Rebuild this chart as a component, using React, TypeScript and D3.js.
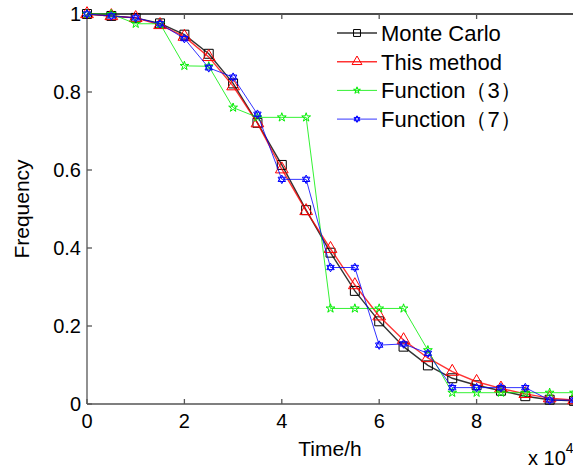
import { useEffect, useRef } from 'react'
import * as d3 from 'd3'

// time in units of 10^4 h
const times = [0, 0.5, 1, 1.5, 2, 2.5, 3, 3.5, 4, 4.5, 5, 5.5, 6, 6.5, 7, 7.5, 8, 8.5, 9, 9.5, 10]

const monteCarlo = [1, 0.995, 0.99, 0.976, 0.947, 0.898, 0.822, 0.721, 0.613, 0.497, 0.388, 0.29, 0.212, 0.147, 0.099, 0.066, 0.048, 0.034, 0.02, 0.011, 0.008]
const thisMethod = [1, 0.995, 0.99, 0.972, 0.942, 0.89, 0.815, 0.72, 0.602, 0.495, 0.398, 0.305, 0.225, 0.164, 0.118, 0.083, 0.057, 0.04, 0.026, 0.015, 0.01]
const function3 = [1, 1, 0.975, 0.975, 0.867, 0.866, 0.76, 0.735, 0.735, 0.735, 0.245, 0.245, 0.245, 0.245, 0.138, 0.029, 0.029, 0.029, 0.029, 0.029, 0.029]
const function7 = [1, 0.995, 0.99, 0.975, 0.937, 0.862, 0.838, 0.743, 0.576, 0.576, 0.35, 0.35, 0.151, 0.154, 0.13, 0.042, 0.042, 0.042, 0.042, 0.01, 0.01]

const seriesNames = ['Monte Carlo', 'This method', 'Function（3）', 'Function（7）']
const xTicks = [0, 2, 4, 6, 8, 10]
const yTicks = [0, 0.2, 0.4, 0.6, 0.8, 1]

// hexagram marker (two overlapping triangles)
const hexagram = {
  draw(ctx: any, size: number) {
    const r = Math.sqrt(size) * 0.62
    for (let k = 0; k < 2; k++) {
      for (let i = 0; i < 3; i++) {
        const a = -Math.PI / 2 + k * Math.PI + (i * 2 * Math.PI) / 3
        const px = r * Math.cos(a)
        const py = r * Math.sin(a)
        if (i === 0) ctx.moveTo(px, py)
        else ctx.lineTo(px, py)
      }
      ctx.closePath()
    }
  },
}

export default function App() {
  const ref = useRef<SVGSVGElement>(null)

  useEffect(() => {
    const svg = d3.select(ref.current)
    svg.selectAll('*').remove()
    const font = '"Liberation Sans", Arial, sans-serif'

    const x = d3.scaleLinear().domain([0, 10]).range([87, 574])
    const y = d3.scaleLinear().domain([0, 1]).range([404, 14])

    const series = [
      { name: seriesNames[0], values: monteCarlo, color: '#000000', width: 1.4, symbol: d3.symbolSquare, size: 80 },
      { name: seriesNames[1], values: thisMethod, color: '#ff0000', width: 1.4, symbol: d3.symbolTriangle, size: 70 },
      { name: seriesNames[2], values: function3, color: '#00ee00', width: 1, symbol: d3.symbolStar, size: 24 },
      { name: seriesNames[3], values: function7, color: '#0000ff', width: 1, symbol: hexagram as any, size: 48 },
    ]

    // axes lines
    const ax = svg.append('g').attr('stroke', '#555').attr('stroke-width', 1.3)
    ax.append('line').attr('x1', x(0)).attr('x2', 573).attr('y1', y(0)).attr('y2', y(0))
    ax.append('line').attr('x1', x(0)).attr('x2', x(0)).attr('y1', y(0)).attr('y2', y(1))
    ax.append('line').attr('x1', x(0)).attr('x2', 573).attr('y1', y(1)).attr('y2', y(1)).attr('stroke', '#111')

    // ticks (inward)
    xTicks.forEach((t) => {
      ax.append('line').attr('x1', x(t)).attr('x2', x(t)).attr('y1', y(0)).attr('y2', y(0) - 5)
      ax.append('line').attr('x1', x(t)).attr('x2', x(t)).attr('y1', y(1)).attr('y2', y(1) + 5)
    })
    yTicks.forEach((t) => {
      ax.append('line').attr('x1', x(0)).attr('x2', x(0) + 5).attr('y1', y(t)).attr('y2', y(t))
    })

    const labels = svg.append('g').attr('font-family', font).attr('font-size', 20).attr('fill', '#000')
    xTicks.filter((t) => t < 10).forEach((t) => {
      labels.append('text').attr('x', x(t)).attr('y', y(0) + 24).attr('text-anchor', 'middle').text(String(t))
    })
    yTicks.forEach((t) => {
      labels.append('text').attr('x', x(0) - 6).attr('y', y(t) + 7).attr('text-anchor', 'end').text(String(t))
    })

    labels.append('text').attr('x', 330).attr('y', 456).attr('font-size', 21).attr('text-anchor', 'middle').text('Time/h')
    labels.append('text')
      .attr('transform', `translate(29,209) rotate(-90)`)
      .attr('font-size', 21)
      .attr('text-anchor', 'middle')
      .text('Frequency')
    const exp = labels.append('text').attr('x', 528).attr('y', 465)
    exp.append('tspan').text('x 10')
    exp.append('tspan').attr('dy', -12).attr('font-size', 14).text('4')

    // data
    const line = d3.line<number>().x((_, i) => x(times[i])).y((d) => y(d))
    series.forEach((s) => {
      const g = svg.append('g')
      g.append('path')
        .attr('d', line(s.values))
        .attr('fill', 'none')
        .attr('stroke', s.color)
        .attr('stroke-width', s.width)
        .attr('stroke-opacity', 0.8)
      g.selectAll('path.m')
        .data(s.values)
        .join('path')
        .attr('class', 'm')
        .attr('transform', (d, i) => `translate(${x(times[i])},${y(d)})`)
        .attr('d', d3.symbol(s.symbol, s.size)())
        .attr('fill', 'none')
        .attr('stroke', s.color)
        .attr('stroke-width', 1)
    })

    // legend
    const lg = svg.append('g').attr('font-family', font).attr('font-size', 22)
    series.forEach((s, i) => {
      const ly = 33 + i * 28.7
      lg.append('line').attr('x1', 337).attr('x2', 377).attr('y1', ly).attr('y2', ly)
        .attr('stroke', s.color).attr('stroke-width', s.width).attr('stroke-opacity', 0.8)
      lg.append('path')
        .attr('transform', `translate(357,${ly})`)
        .attr('d', d3.symbol(s.symbol, s.size * 0.6)())
        .attr('fill', 'none')
        .attr('stroke', s.color)
      lg.append('text').attr('x', 381).attr('y', ly + 8).text(s.name)
    })
  }, [])

  return (
    <div style={{ position: 'fixed', left: 0, top: 0, background: '#fff' }}>
      <svg ref={ref} width={573} height={469} style={{ display: 'block' }} />
    </div>
  )
}
